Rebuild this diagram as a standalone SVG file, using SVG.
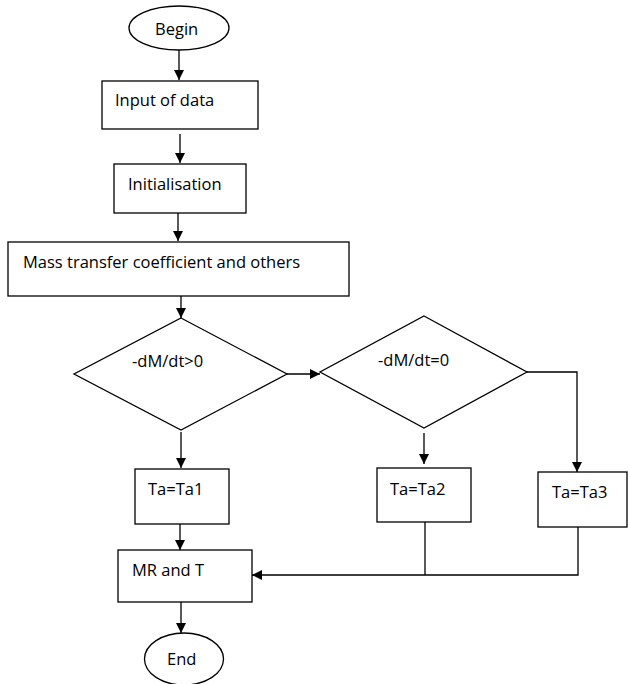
<svg xmlns="http://www.w3.org/2000/svg" width="628" height="684" viewBox="0 0 628 684">
<style>
.s{fill:#fff;stroke:#000;stroke-width:1.3}
.t{font-family:"Open Sans","Liberation Sans",Arial,sans-serif;font-size:16.5px;fill:#000}
.c{fill:none;stroke:#000;stroke-width:1.3}
</style>
<defs>
<marker id="a" viewBox="0 0 10 10" refX="10" refY="5" markerWidth="10" markerHeight="10" markerUnits="userSpaceOnUse" orient="auto">
<path d="M0,0 L10,5 L0,10 Z" fill="#000"/>
</marker>
</defs>
<rect width="628" height="684" fill="#fff"/>
<g id="connectors">
<path class="c" d="M179,50 V80" marker-end="url(#a)"/>
<path class="c" d="M180,134 V163" marker-end="url(#a)"/>
<path class="c" d="M178,213 V241" marker-end="url(#a)"/>
<path class="c" d="M181,286 V318" marker-end="url(#a)"/>
<path class="c" d="M287,374 H320" marker-end="url(#a)"/>
<path class="c" d="M527,372 H577 V472" marker-end="url(#a)"/>
<path class="c" d="M424,433 V464" marker-end="url(#a)"/>
<path class="c" d="M181,432 V468" marker-end="url(#a)"/>
<path class="c" d="M180,524 V550" marker-end="url(#a)"/>
<path class="c" d="M425,522 V575"/>
<path class="c" d="M578,527 V575 H252" marker-end="url(#a)"/>
<path class="c" d="M181,602 V633" marker-end="url(#a)"/>
</g>
<g id="begin">
<ellipse class="s" cx="179" cy="28" rx="50" ry="22"/>
<text class="t" x="155" y="35">Begin</text>
</g>
<g id="input">
<rect class="s" x="102" y="81" width="156" height="48"/>
<text class="t" x="115" y="106">Input of data</text>
</g>
<g id="init">
<rect class="s" x="114" y="164" width="132" height="49"/>
<text class="t" x="128" y="190">Initialisation</text>
</g>
<g id="mass">
<rect class="s" x="8" y="242" width="341" height="54"/>
<text class="t" x="23" y="268">Mass transfer coefficient and others</text>
</g>
<g id="dec1">
<polygon class="s" points="181,318 287,374 181,430 74,374"/>
<text class="t" x="132" y="367">-dM/dt&gt;0</text>
</g>
<g id="dec2">
<polygon class="s" points="424,316 527,372 424,428 320,372"/>
<text class="t" x="378" y="366">-dM/dt=0</text>
</g>
<g id="ta1">
<rect class="s" x="135" y="469" width="94" height="55"/>
<text class="t" x="148" y="495">Ta=Ta1</text>
</g>
<g id="ta2">
<rect class="s" x="377" y="468" width="94" height="54"/>
<text class="t" x="390" y="495">Ta=Ta2</text>
</g>
<g id="ta3">
<rect class="s" x="538" y="472" width="89" height="55"/>
<text class="t" x="552" y="498">Ta=Ta3</text>
</g>
<g id="mr">
<rect class="s" x="118" y="550" width="134" height="52"/>
<text class="t" x="132" y="576">MR and T</text>
</g>
<g id="end">
<ellipse class="s" cx="184" cy="659" rx="39.5" ry="26"/>
<text class="t" x="167" y="665">End</text>
</g>
</svg>
